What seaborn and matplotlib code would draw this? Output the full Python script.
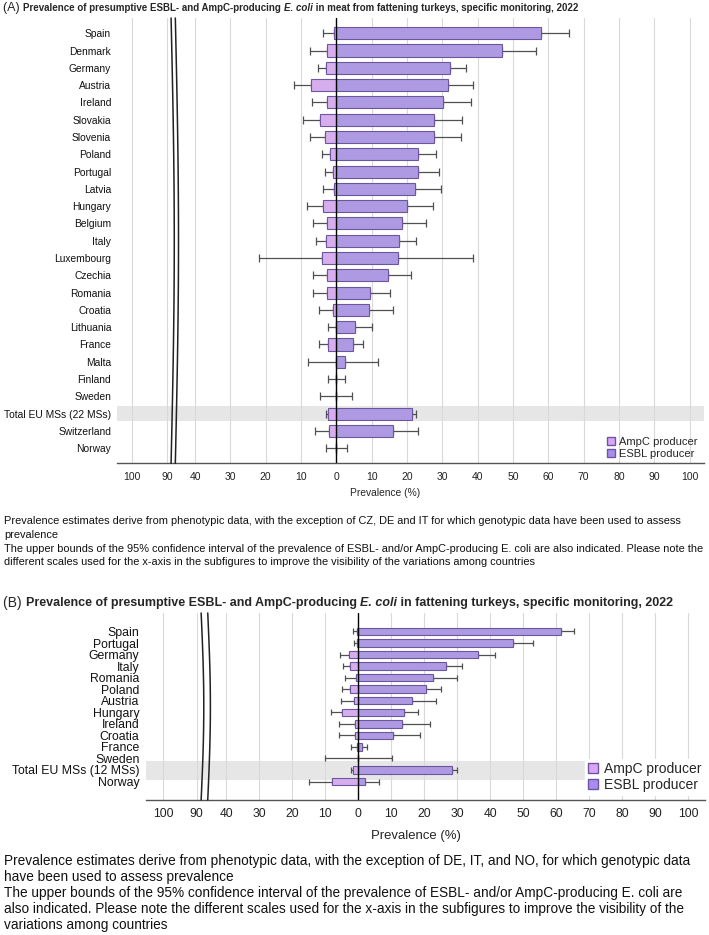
import numpy as np
import pandas as pd
import matplotlib
matplotlib.use("Agg")
import matplotlib.pyplot as plt
import matplotlib.patches as mpatches
from matplotlib import font_manager
import seaborn as sns

# ── Data: panel A (meat from fattening turkeys) ─────────────────────────────
countries_a = ["Spain", "Denmark", "Germany", "Austria", "Ireland", "Slovakia",
               "Slovenia", "Poland", "Portugal", "Latvia", "Hungary", "Belgium",
               "Italy", "Luxembourg", "Czechia", "Romania", "Croatia", "Lithuania",
               "France", "Malta", "Finland", "Sweden", "Total EU MSs (22 MSs)",
               "Switzerland", "Norway"]
esbl_a = [58.0, 47.0, 32.1, 31.5, 30.1, 27.7, 27.6, 23.0, 23.0, 22.3, 20.1, 18.6,
          17.7, 17.5, 14.5, 9.4, 9.2, 5.4, 4.7, 2.4, 0.0, 0.0, 21.3, 15.9, 0.0]
esbl_ub_a = [65.9, 56.5, 36.6, 38.8, 38.0, 35.5, 35.2, 28.1, 29.1, 29.7, 27.3, 25.5,
             22.6, 38.8, 21.1, 15.2, 16.0, 10.2, 7.6, 11.9, 2.5, 4.4, 22.6, 23.0, 3.0]
ampc_a = [0.7, 2.6, 3.0, 7.2, 2.6, 4.6, 3.2, 1.9, 0.9, 0.7, 3.9, 2.6,
          3.0, 4.2, 2.6, 2.6, 0.9, 0.0, 2.5, 0.0, 0.0, 0.0, 2.4, 2.1, 0.0]
ampc_ub_a = [3.7, 7.6, 5.1, 11.9, 6.8, 9.5, 7.5, 4.2, 3.3, 3.7, 8.4, 6.5,
             5.8, 21.9, 6.5, 6.5, 5.0, 2.5, 4.9, 7.9, 2.5, 4.5, 3.0, 6.1, 3.0]

# ── Data: panel B (fattening turkeys) ───────────────────────────────────────
countries_b = ["Spain", "Portugal", "Germany", "Italy", "Romania", "Poland",
               "Austria", "Hungary", "Ireland", "Croatia", "France", "Sweden",
               "Total EU MSs (12 MSs)", "Norway"]
esbl_b = [61.5, 47.0, 36.1, 26.7, 22.5, 20.6, 16.4, 13.7, 13.3, 10.6, 1.2, 0.0, 28.5, 1.9]
esbl_ub_b = [65.3, 52.9, 41.3, 31.3, 30.0, 25.1, 23.4, 18.0, 21.6, 18.6, 2.7, 10.1, 29.9, 6.4]
ampc_b = [0.5, 0.3, 2.9, 2.4, 0.6, 2.6, 1.3, 4.9, 1.0, 1.0, 0.4, 0.0, 1.7, 8.1]
ampc_ub_b = [1.6, 1.4, 5.4, 4.7, 3.9, 5.0, 5.2, 8.2, 5.7, 5.9, 2.1, 10.1, 2.3, 14.8]

tick_vals = [100, 90, 40, 30, 20, 10, 0, 10, 20, 30, 40, 50, 60, 70, 80, 90, 100]

# ── Style ────────────────────────────────────────────────────────────────────
sns.set_theme(style="white")
names = {f.name for f in font_manager.fontManager.ttflist}
REG = "Liberation Sans"
HAS_NARROW = "Liberation Sans Narrow" in names
NARROW = "Liberation Sans Narrow" if HAS_NARROW else "Liberation Sans"
# without a narrow face, shrink sizes so line widths stay close to the original
NS = 1.0 if HAS_NARROW else 0.86
plt.rcParams["font.family"] = [REG, "DejaVu Sans"]

COLORS = {
    "esbl": "#a98cf0",
    "ampc": "#daa4f7",
    "edge": "#6c579e",
    "err": "#505050",
    "grid": "#d9d9d9",
    "band": "#e6e6e6",
}
W, H = 709, 935


def fx(px):
    return px / W


def fy(py):
    return 1 - py / H


def draw_panel(ax, countries, esbl, esbl_ub, ampc, ampc_ub, cfg):
    n = len(countries)
    df = pd.DataFrame({
        "country": countries * 2,
        "value": list(esbl) + [-v for v in ampc],
        "producer": ["ESBL producer"] * n + ["AmpC producer"] * n,
    })
    sns.barplot(data=df, x="value", y="country", hue="producer", order=countries,
                hue_order=["ESBL producer", "AmpC producer"], dodge=False,
                palette={"ESBL producer": COLORS["esbl"], "AmpC producer": COLORS["ampc"]},
                width=cfg["bar_h"], orient="h", errorbar=None, legend=False,
                edgecolor=COLORS["edge"], linewidth=0.8, zorder=3, ax=ax)

    pos = np.arange(n)
    e = np.array(esbl)
    a = np.array(ampc)
    ax.errorbar(e, pos, xerr=[np.zeros(n), np.array(esbl_ub) - e], fmt="none",
                ecolor=COLORS["err"], elinewidth=0.9, capsize=cfg["cap"],
                capthick=0.9, zorder=2)
    ax.errorbar(-a, pos, xerr=[np.array(ampc_ub) - a, np.zeros(n)], fmt="none",
                ecolor=COLORS["err"], elinewidth=0.9, capsize=cfg["cap"],
                capthick=0.9, zorder=2)

    # highlighted EU total row
    ti = cfg["total_idx"]
    ax.axhspan(ti + cfg["band"][0], ti + cfg["band"][1], color=COLORS["band"],
               zorder=0, lw=0)

    ticks = cfg["ticks"]
    ax.set_xticks(ticks)
    ax.set_xticklabels([str(v) for v in tick_vals], fontsize=cfg["tick_fs"],
                       fontfamily=cfg["tick_font"], color="#222222")
    for t in ticks:
        if t != 0:
            ax.axvline(t, color=COLORS["grid"], lw=0.8, zorder=0.5)
    ax.axvline(0, color="black", lw=1.0, zorder=4)
    ax.set_xlim(*cfg["xlim"])
    ax.set_ylim(cfg["ylim"][1], cfg["ylim"][0])

    for side in ["left", "top", "right"]:
        ax.spines[side].set_visible(False)
    ax.spines["bottom"].set_color("#555555")
    ax.spines["bottom"].set_linewidth(1.0)
    ax.tick_params(axis="x", length=3, width=0.8, color="#555555", pad=3)
    ax.tick_params(axis="y", length=0, pad=cfg["ypad"])
    for lab in ax.get_yticklabels():
        lab.set_fontsize(cfg["lab_fs"])
        lab.set_fontfamily(cfg["lab_font"])
        lab.set_color("#111111")
    ax.set_xlabel("")
    ax.set_ylabel("")

    # axis break: two bowed lines
    t = np.linspace(0, 1, 60)
    for x0 in cfg["brk"]:
        ax.plot(x0 + cfg["bow"] * np.sin(np.pi * t), t, color="#222222", lw=1.1,
                transform=ax.get_xaxis_transform(), clip_on=False, zorder=5)

    handles = [mpatches.Patch(facecolor=COLORS["ampc"], edgecolor=COLORS["edge"],
                              label="AmpC producer"),
               mpatches.Patch(facecolor=COLORS["esbl"], edgecolor=COLORS["edge"],
                              label="ESBL producer")]
    leg = ax.legend(handles=handles, loc="lower right", bbox_to_anchor=cfg["leg_anchor"],
                    bbox_transform=ax.figure.transFigure, frameon=cfg["leg_frame"],
                    fontsize=cfg["leg_fs"], handlelength=0.75, handleheight=0.75,
                    handletextpad=0.4, labelspacing=0.15, borderpad=0.2,
                    borderaxespad=0)
    if cfg["leg_frame"]:
        leg.get_frame().set_facecolor("white")
        leg.get_frame().set_edgecolor("white")
        leg.get_frame().set_alpha(1)
        leg.get_frame().set_boxstyle("square", pad=0)
    leg.set_zorder(6)


def rich_line(fig, x, y, parts):
    r = fig.canvas.get_renderer()
    cur = x
    for txt, kw in parts:
        t = fig.text(fx(cur), fy(y), txt, va="center", ha="left", **kw)
        bb = t.get_window_extent(renderer=r)
        cur = bb.x1


fig = plt.figure(figsize=(W / 100, H / 100), dpi=100)

axA = fig.add_axes([fx(116.7), fy(463.3), fx(704) - fx(116.7), fy(18) - fy(463.3)])
draw_panel(axA, countries_a, esbl_a, esbl_ub_a, ampc_a, ampc_ub_a, dict(
    bar_h=0.7, cap=2.8, total_idx=22, band=(-0.42, 0.44),
    ticks=[-58, -48, -40, -30, -20, -10, 0, 10, 20, 30, 40, 50, 60, 70, 80, 90, 100],
    tick_fs=7.5, tick_font=REG, lab_fs=7.4, lab_font=REG, ypad=4,
    xlim=(-62.2, 104.1), ylim=(-0.88, 24.87), brk=(-46.8, -45.6), bow=0.9,
    leg_anchor=(fx(700), fy(461)), leg_frame=False, leg_fs=8,
))

axB = fig.add_axes([fx(146), fy(800), fx(705) - fx(146), fy(613) - fy(800)])
draw_panel(axB, countries_b, esbl_b, esbl_ub_b, ampc_b, ampc_ub_b, dict(
    bar_h=0.64, cap=2.3, total_idx=12, band=(-0.75, 0.85),
    ticks=[-59, -49, -40, -30, -20, -10, 0, 10, 20, 30, 40, 50, 60, 70, 80, 90, 100],
    tick_fs=10.2 * NS, tick_font=NARROW, lab_fs=10.3 * NS, lab_font=NARROW, ypad=4.8,
    xlim=(-64.3, 105.0), ylim=(-1.6, 14.6), brk=(-47.6, -45.6), bow=0.8,
    leg_anchor=(fx(704), fy(795)), leg_frame=True, leg_fs=10,
))

# ── Titles ───────────────────────────────────────────────────────────────────
fig.canvas.draw()
ta = 8.2 * NS
rich_line(fig, 3, 8, [
    ("(A) ", dict(fontsize=9, fontfamily=NARROW)),
    ("Prevalence of presumptive ESBL- and AmpC-producing ",
     dict(fontsize=ta, fontfamily=NARROW, fontweight="bold")),
    ("E. coli", dict(fontsize=ta, fontfamily=NARROW, fontweight="bold", fontstyle="italic")),
    (" in meat from fattening turkeys, specific monitoring, 2022",
     dict(fontsize=ta, fontfamily=NARROW, fontweight="bold")),
])
tb = 10.45 * NS
rich_line(fig, 3, 603, [
    ("(B) ", dict(fontsize=10, fontfamily=NARROW)),
    ("Prevalence of presumptive ESBL- and AmpC-producing ",
     dict(fontsize=tb, fontfamily=NARROW, fontweight="bold")),
    ("E. coli", dict(fontsize=tb, fontfamily=NARROW, fontweight="bold", fontstyle="italic")),
    (" in fattening turkeys, specific monitoring, 2022",
     dict(fontsize=tb, fontfamily=NARROW, fontweight="bold")),
])

# ── Axis titles and notes ────────────────────────────────────────────────────
fig.text(fx(385), fy(493), "Prevalence (%)", ha="center", va="center",
         fontsize=8.6 * NS, fontfamily=NARROW)
fig.text(fx(416), fy(836), "Prevalence (%)", ha="center", va="center",
         fontsize=11 * NS, fontfamily=NARROW)

notes_a = [
    "Prevalence estimates derive from phenotypic data, with the exception of CZ, DE and IT for which genotypic data have been used to assess",
    "prevalence",
    "The upper bounds of the 95% confidence interval of the prevalence of ESBL- and/or AmpC-producing E. coli are also indicated. Please note the",
    "different scales used for the x-axis in the subfigures to improve the visibility of the variations among countries",
]
for i, line in enumerate(notes_a):
    fig.text(fx(4), fy(521 + i * 13.8), line, ha="left", va="center",
             fontsize=9.2 * NS, fontfamily=NARROW, color="#111111")

notes_b = [
    "Prevalence estimates derive from phenotypic data, with the exception of DE, IT, and NO, for which genotypic data",
    "have been used to assess prevalence",
    "The upper bounds of the 95% confidence interval of the prevalence of ESBL- and/or AmpC-producing E. coli are",
    "also indicated. Please note the different scales used for the x-axis in the subfigures to improve the visibility of the",
    "variations among countries",
]
for i, line in enumerate(notes_b):
    fig.text(fx(4), fy(861 + i * 16), line, ha="left", va="center",
             fontsize=11.45 * NS, fontfamily=NARROW, color="#111111")

fig.savefig("out.png", dpi=100, facecolor="white")
plt.close(fig)
